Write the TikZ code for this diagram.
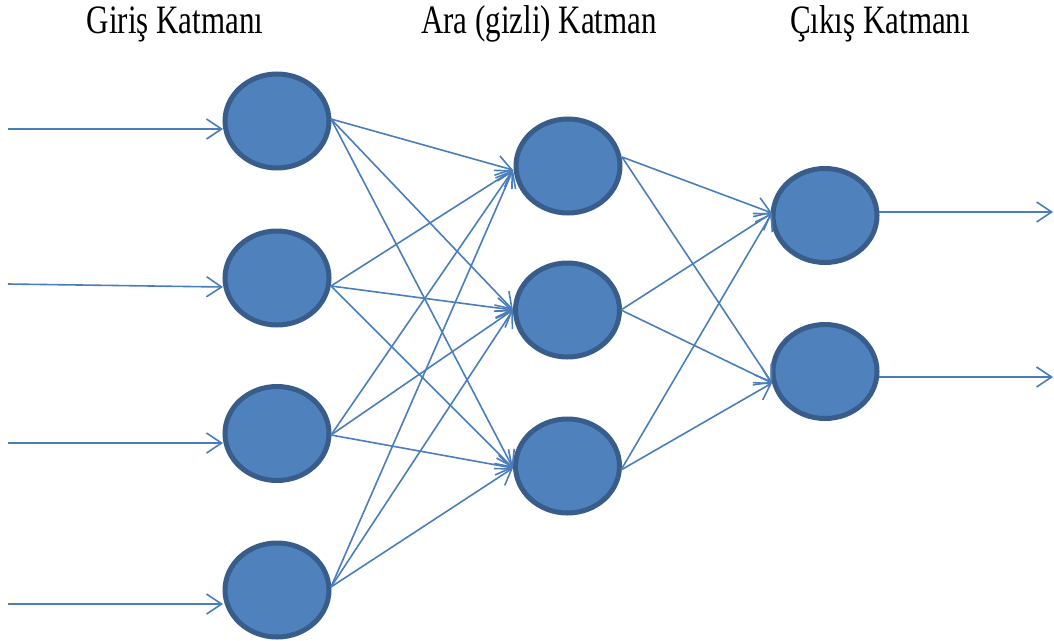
\documentclass[tikz,border=0pt]{standalone}
\usepackage{fontspec}
\setmainfont{Liberation Serif}
\usetikzlibrary{shapes.geometric,arrows.meta}
\definecolor{nfill}{HTML}{4F81BD}
\definecolor{nborder}{HTML}{385D8A}
\definecolor{eline}{HTML}{4A7EBB}
\tikzset{
  neuron/.style={ellipse,draw=nborder,fill=nfill,line width=5pt,inner sep=0pt,minimum width=104pt,minimum height=94pt},
  conn/.style={draw=eline,line width=1.6pt,-{Straight Barb[length=15pt,width=20pt,line width=1.6pt]}},
  layerlabel/.style={font=\fontsize{31}{36}\selectfont,anchor=base,inner sep=0pt}
}
\begin{document}
\begin{tikzpicture}[x=1pt,y=-1pt]
\useasboundingbox (0,0) rectangle (1054,640);
% labels
\node[layerlabel] (l1) at (175,33) {\scalebox{1}[1.3]{Giriş Katmanı}};
\node[layerlabel] (l2) at (539,33) {\scalebox{1}[1.3]{Ara (gizli) Katman}};
\node[layerlabel] (l3) at (880,33) {\scalebox{1}[1.3]{Çıkış Katmanı}};
% neurons
\node[neuron] (i1) at (277,121) {};
\node[neuron] (i2) at (277,278) {};
\node[neuron] (i3) at (277,433.5) {};
\node[neuron] (i4) at (277,590) {};
\node[neuron] (h1) at (568,166) {};
\node[neuron] (h2) at (567.5,310) {};
\node[neuron] (h3) at (567.5,466) {};
\node[neuron] (o1) at (825,215.5) {};
\node[neuron] (o2) at (825,371.5) {};
% ports
\coordinate (i1in) at (223,129); \coordinate (i1out) at (331,119);
\coordinate (i2in) at (223,287); \coordinate (i2out) at (331,286);
\coordinate (i3in) at (223,443); \coordinate (i3out) at (331,435);
\coordinate (i4in) at (223,604); \coordinate (i4out) at (331,587);
\coordinate (h1in) at (513,170); \coordinate (h1out) at (622,157);
\coordinate (h2in) at (513,310); \coordinate (h2out) at (621,310);
\coordinate (h3in) at (513,468); \coordinate (h3out) at (621,470);
\coordinate (o1in) at (772,213); \coordinate (o1out) at (879,212);
\coordinate (o2in) at (772,383); \coordinate (o2out) at (879,377);
% free ends
\coordinate (s1) at (8,129);
\coordinate (s2) at (8,284);
\coordinate (s3) at (8,443);
\coordinate (s4) at (8,604);
\coordinate (e1) at (1053,212);
\coordinate (e2) at (1053,377);
% input arrows
\draw[conn] (s1) -- (i1in);
\draw[conn] (s2) -- (i2in);
\draw[conn] (s3) -- (i3in);
\draw[conn] (s4) -- (i4in);
% input -> hidden
\foreach \i in {1,2,3,4}{
  \foreach \h in {1,2,3}{
    \draw[conn] (i\i out) -- (h\h in);
  }
}
% hidden -> output
\foreach \h in {1,2,3}{
  \foreach \o in {1,2}{
    \draw[conn] (h\h out) -- (o\o in);
  }
}
% output arrows
\draw[conn] (o1out) -- (e1);
\draw[conn] (o2out) -- (e2);
\end{tikzpicture}
\end{document}
